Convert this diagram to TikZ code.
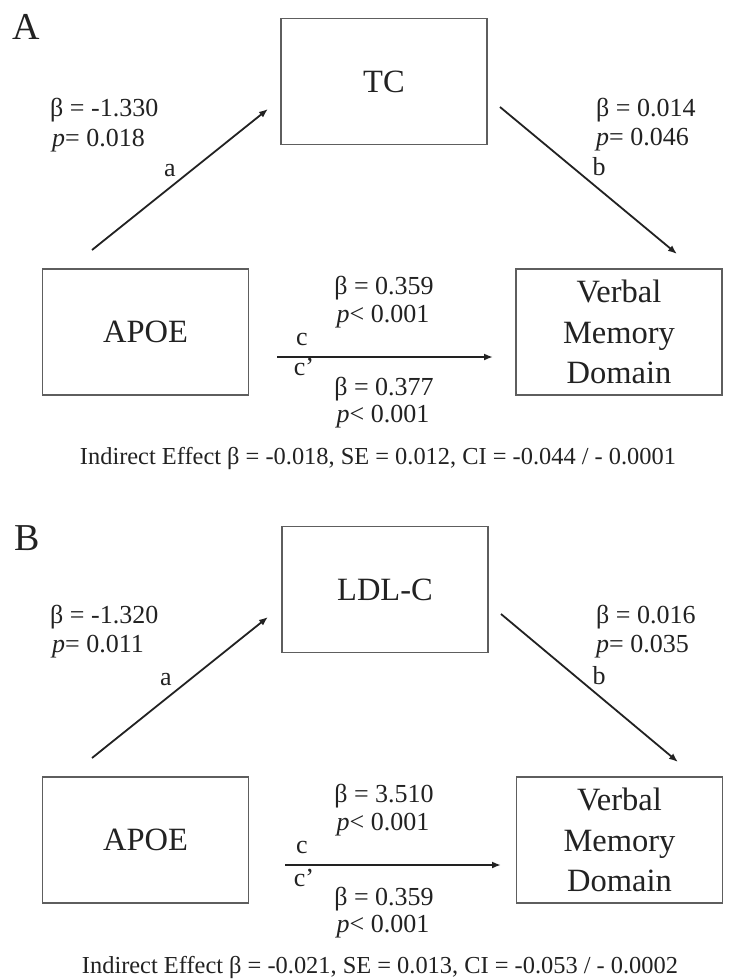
\documentclass[tikz,border=0pt]{standalone}
\usepackage{fontspec}
\setmainfont{Liberation Serif}
\usetikzlibrary{arrows.meta}
\definecolor{ink}{HTML}{222222}
\definecolor{framec}{HTML}{5E5E5E}
\begin{document}
\begin{tikzpicture}[x=1pt,y=-1pt,
  varbox/.style={draw=framec, line width=1.8pt, minimum width=206pt, minimum height=126pt,
    inner sep=0pt, font=\fontsize{32.5}{40.5}\selectfont, text=ink, align=center},
  lbl/.style={anchor=west, inner sep=0pt, font=\fontsize{26}{30}\selectfont, text=ink,
    text height=17pt, text depth=6pt},
  clbl/.style={lbl, anchor=center},
  indir/.style={anchor=center, inner sep=0pt, font=\fontsize{24.4}{28}\selectfont, text=ink},
  conn/.style={draw=ink, line width=1.8pt, -{Latex[length=9pt,width=7pt]}},
  panellbl/.style={anchor=north west, inner sep=0pt, font=\fontsize{38}{40}\selectfont, text=ink}
]
\useasboundingbox (0,0) rectangle (751,980);
\fill[white] (0,0) rectangle (751,980);

% ---------------- Panel A ----------------
\node[panellbl] (labA) at (12,14) {A};
\node[varbox] (tcA) at (384,81.5) {TC};
\node[varbox] (apoeA) at (145.5,332) {APOE};
\node[varbox] (vmA) at (619,332) {Verbal\\Memory\\Domain};

\coordinate (aA1) at (92,250);  \coordinate (aA2) at (268,109);
\coordinate (bA1) at (500,107); \coordinate (bA2) at (677,254);
\coordinate (cA1) at (277,357); \coordinate (cA2) at (493,357);
\draw[conn] (aA1) -- (aA2);
\draw[conn] (bA1) -- (bA2);
\draw[conn] (cA1) -- (cA2);

\node[lbl] (aAbeta) at (50,111) {β = -1.330};
\node[lbl] (aAp) at (52,141) {\textit{p}= 0.018};
\node[clbl] (aAname) at (170,171) {a};

\node[lbl] (bAbeta) at (596,111) {β = 0.014};
\node[lbl] (bAp) at (596,140) {\textit{p}= 0.046};
\node[clbl] (bAname) at (599,170) {b};

\node[clbl] (cAbeta) at (384,289) {β = 0.359};
\node[clbl] (cAp) at (383,317) {\textit{p}< 0.001};
\node[clbl] (cAname) at (302,340) {c};
\node[clbl] (cpAname) at (304,370) {c'};
\node[clbl] (cpAbeta) at (384,390) {β = 0.377};
\node[clbl] (cpAp) at (383,417) {\textit{p}< 0.001};

\node[indir] (indA) at (378,459) {Indirect Effect β = -0.018, SE = 0.012, CI = -0.044 / - 0.0001};

% ---------------- Panel B ----------------
\begin{scope}[yshift=-508pt]
\node[panellbl] (labB) at (14,17) {B};
\node[varbox] (tcB) at (385,81.5) {LDL-C};
\node[varbox] (apoeB) at (145.5,332) {APOE};
\node[varbox] (vmB) at (619.5,332) {Verbal\\Memory\\Domain};

\coordinate (aB1) at (92,250);  \coordinate (aB2) at (268,109);
\coordinate (bB1) at (501,106); \coordinate (bB2) at (678,254);
\coordinate (cB1) at (285,357); \coordinate (cB2) at (501,357);
\draw[conn] (aB1) -- (aB2);
\draw[conn] (bB1) -- (bB2);
\draw[conn] (cB1) -- (cB2);

\node[lbl] (aBbeta) at (50,110) {β = -1.320};
\node[lbl] (aBp) at (52,139) {\textit{p}= 0.011};
\node[clbl] (aBname) at (166,172) {a};

\node[lbl] (bBbeta) at (596,110) {β = 0.016};
\node[lbl] (bBp) at (596,139) {\textit{p}= 0.035};
\node[clbl] (bBname) at (599,171) {b};

\node[clbl] (cBbeta) at (384,289) {β = 3.510};
\node[clbl] (cBp) at (383,317) {\textit{p}< 0.001};
\node[clbl] (cBname) at (302,340) {c};
\node[clbl] (cpBname) at (304,373) {c'};
\node[clbl] (cpBbeta) at (384,392) {β = 0.359};
\node[clbl] (cpBp) at (383,419) {\textit{p}< 0.001};

\node[indir] (indB) at (380,459) {Indirect Effect β = -0.021, SE = 0.013, CI = -0.053 / - 0.0002};
\end{scope}
\end{tikzpicture}
\end{document}
